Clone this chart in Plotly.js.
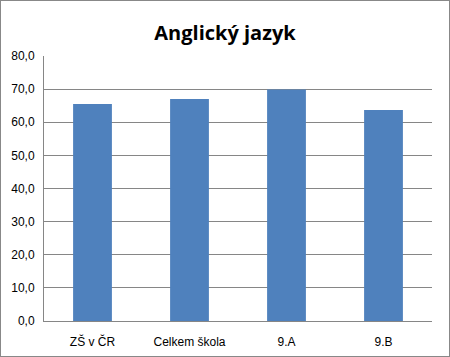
<!DOCTYPE html>
<html><head><meta charset="utf-8">
<script src="https://cdn.plot.ly/plotly-3.0.1.min.js"></script>
<style>
html,body{margin:0;padding:0;background:#fff;}
#c{width:450px;height:357px;box-sizing:border-box;border:1px solid #888;}
</style></head>
<body><div id="c"></div>
<script>
const categories = ["ZŠ v ČR", "Celkem škola", "9.A", "9.B"];
const values = [65.5, 67.0, 69.9, 63.7];
const yTicks = [0, 10, 20, 30, 40, 50, 60, 70, 80];

Plotly.newPlot('c', [{
  type: 'bar',
  x: categories,
  y: values,
  marker: {color: '#4F81BD'},
  hoverinfo: 'none'
}], {
  width: 448, height: 355,
  margin: {l: 43, r: 17, t: 55, b: 35},
  paper_bgcolor: '#fff', plot_bgcolor: '#fff',
  separators: ',.',
  bargap: 0.6,
  showlegend: false,
  title: {text: '<b>Anglický jazyk</b>', font: {family: 'Open Sans, sans-serif', size: 20, color: '#000'}, x: 0.5, xanchor: 'center', y: 0.91, yanchor: 'middle'},
  xaxis: {
    showline: true, linecolor: '#868686', linewidth: 1,
    ticks: '', ticklabelstandoff: 10,
    tickfont: {family: 'Liberation Sans, Arial, sans-serif', size: 12, color: '#000'},
    showgrid: false, zeroline: false
  },
  yaxis: {
    range: [0, 80], tickvals: yTicks, tickformat: '.1f',
    showline: true, linecolor: '#868686', linewidth: 1,
    gridcolor: '#868686', gridwidth: 1, zeroline: false,
    ticks: '', ticklen: 0, ticklabelstandoff: 6,
    tickfont: {family: 'Liberation Sans, Arial, sans-serif', size: 12, color: '#000'}
  }
}, {displayModeBar: false, staticPlot: true});
</script></body></html>
